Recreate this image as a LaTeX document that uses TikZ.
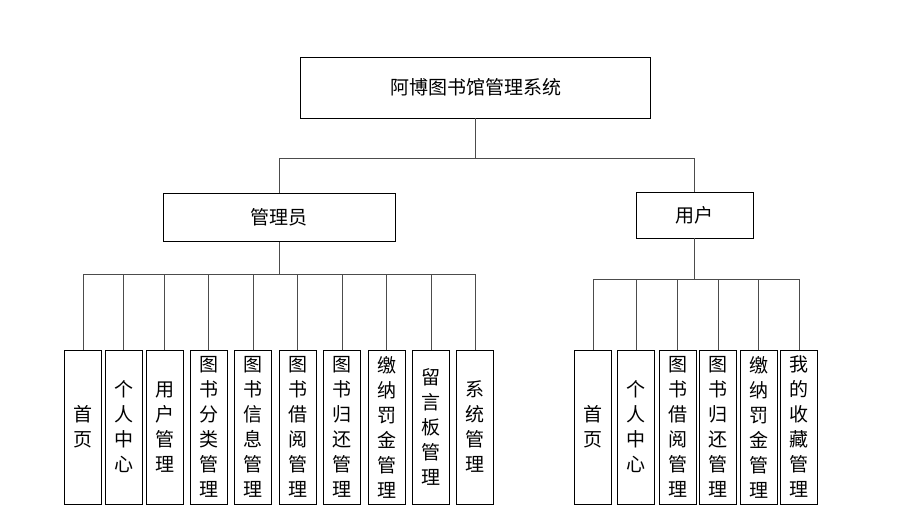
\documentclass[tikz,border=0pt]{standalone}
\usepackage{fontspec}
\setmainfont{Noto Sans CJK SC}
\usepackage{tikz}
\usetikzlibrary{arrows.meta, positioning, calc}

\tikzset{
    box/.style={draw=black, line width=0.8pt, inner sep=0pt, align=center,
        font=\fontsize{19}{25}\selectfont},
    leaf/.style={box, minimum width=37, minimum height=154},
    link/.style={draw=black!70, line width=0.8pt}
}

\begin{document}
\begin{tikzpicture}[x=1pt, y=-1pt]
    \useasboundingbox (0,0) rectangle (911,516);

    % Top level
    \node[box, minimum width=350, minimum height=61] (sys) at (475.5,87.5) {阿博图书馆管理系统};

    % Second level
    \node[box, minimum width=232, minimum height=48] (admin) at (279,217.5) {管理员};
    \node[box, minimum width=117, minimum height=46] (user) at (694.5,215) {用户};

    \coordinate (bus) at (475.5,158);
    \draw[link] (sys.south) -- (bus) -| (admin.north);
    \draw[link] (bus) -| (user.north);

    % Admin functions
    \coordinate (abus) at (279,274);
    \draw[link] (admin.south) -- (abus);
    \foreach \i/\x/\txt in {1/83/首\\页, 2/123.5/个\\人\\中\\心, 3/164.5/用\\户\\管\\理,
        4/208.5/图\\书\\分\\类\\管\\理, 5/253/图\\书\\信\\息\\管\\理,
        6/297.5/图\\书\\借\\阅\\管\\理, 7/342/图\\书\\归\\还\\管\\理,
        8/386.5/缴\\纳\\罚\\金\\管\\理, 9/431/留\\言\\板\\管\\理, 10/475/系\\统\\管\\理} {
        \node[leaf] (a\i) at (\x,427) {\txt};
        \draw[link] (abus) -| (a\i.north);
    }

    % User functions
    \coordinate (ubus) at (694.5,279);
    \draw[link] (user.south) -- (ubus);
    \foreach \i/\x/\txt in {1/593/首\\页, 2/636/个\\人\\中\\心,
        3/677.5/图\\书\\借\\阅\\管\\理, 4/718/图\\书\\归\\还\\管\\理,
        5/758.5/缴\\纳\\罚\\金\\管\\理, 6/799/我\\的\\收\\藏\\管\\理} {
        \node[leaf] (u\i) at (\x,427) {\txt};
        \draw[link] (ubus) -| (u\i.north);
    }

\end{tikzpicture}
\end{document}
